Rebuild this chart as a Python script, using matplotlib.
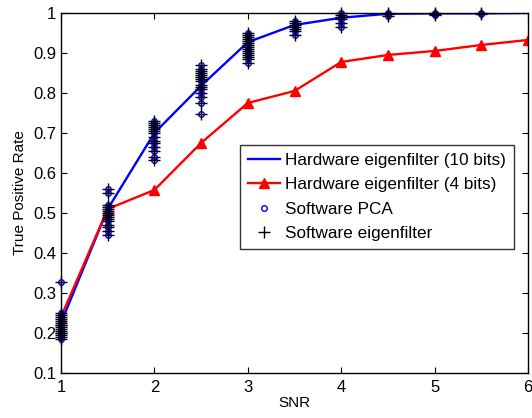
import matplotlib.pyplot as plt

plt.rcParams['font.family'] = ['Liberation Sans', 'DejaVu Sans']

snr = [1, 1.5, 2, 2.5, 3, 3.5, 4, 4.5, 5, 5.5, 6]
hw_10bit = [0.225, 0.51, 0.70, 0.818, 0.927, 0.970, 0.988, 0.998, 0.999, 0.999, 1.0]
hw_4bit = [0.24, 0.51, 0.5575, 0.675, 0.775, 0.805, 0.8775, 0.895, 0.905, 0.92, 0.9325]

# per-trial rates from the software runs, grouped by SNR
trial_rates = {
    1: [0.185, 0.19, 0.195, 0.20, 0.20, 0.205, 0.21, 0.215, 0.22, 0.22,
        0.225, 0.23, 0.235, 0.24, 0.245, 0.25, 0.327],
    1.5: [0.445, 0.455, 0.465, 0.47, 0.48, 0.485, 0.49, 0.495, 0.50, 0.505,
          0.51, 0.515, 0.52, 0.55, 0.56],
    2: [0.632, 0.64, 0.655, 0.665, 0.675, 0.68, 0.69, 0.70, 0.705, 0.71,
        0.715, 0.72, 0.725, 0.73],
    2.5: [0.748, 0.775, 0.79, 0.80, 0.81, 0.815, 0.82, 0.83, 0.835, 0.84,
          0.845, 0.85, 0.855, 0.86, 0.87],
    3: [0.875, 0.885, 0.89, 0.895, 0.90, 0.905, 0.91, 0.915, 0.92, 0.925,
        0.93, 0.935, 0.94, 0.945, 0.95],
    3.5: [0.945, 0.955, 0.96, 0.965, 0.97, 0.975, 0.98],
    4: [0.965, 0.975, 0.985, 0.99, 0.995, 1.0],
    4.5: [0.993, 0.997, 1.0],
    5: [0.995, 0.998, 1.0],
    5.5: [0.998, 1.0],
}

fig = plt.figure(figsize=(5.32, 4.18), dpi=100)
ax = fig.add_axes([0.1147, 0.1077, 0.8778, 0.8613])

ax.plot(snr, hw_10bit, color='#0000ff', lw=1.7, label='Hardware eigenfilter (10 bits)')
ax.plot(snr, hw_4bit, color='#ff0000', lw=1.7, marker='^', ms=7,
        label='Hardware eigenfilter (4 bits)')

xs, ys = [], []
for s, vals in trial_rates.items():
    xs += [s] * len(vals)
    ys += vals
ax.plot(xs, ys, ls='none', marker='o', ms=4, mfc='none', mec='#0000ff',
        mew=1.0, label='Software PCA', clip_on=False)
ax.plot(xs, ys, ls='none', marker='+', ms=8, color='black', mew=1.0,
        label='Software eigenfilter', clip_on=False)

ax.set_xlim(1, 6)
ax.set_ylim(0.1, 1)
ax.set_xticks([1, 2, 3, 4, 5, 6])
ax.set_yticks([0.1, 0.2, 0.3, 0.4, 0.5, 0.6, 0.7, 0.8, 0.9, 1])
ax.set_yticklabels(['0.1', '0.2', '0.3', '0.4', '0.5', '0.6', '0.7', '0.8', '0.9', '1'])
ax.tick_params(direction='in', top=True, right=True, labelsize=12, length=4)
ax.tick_params(axis='x', pad=5)
ax.set_xlabel('SNR', fontsize=11, labelpad=1)
ax.set_ylabel('True Positive Rate', fontsize=11, labelpad=4)
for sp in ax.spines.values():
    sp.set_linewidth(1.0)

leg = ax.legend(loc='upper left', bbox_to_anchor=(0.383, 0.633), fontsize=12.3,
                frameon=True, fancybox=False, edgecolor='black', borderpad=0.45,
                handlelength=1.9, handletextpad=0.3, labelspacing=0.55,
                borderaxespad=0)
leg.get_frame().set_linewidth(1.0)

fig.savefig('out.png', dpi=100)
